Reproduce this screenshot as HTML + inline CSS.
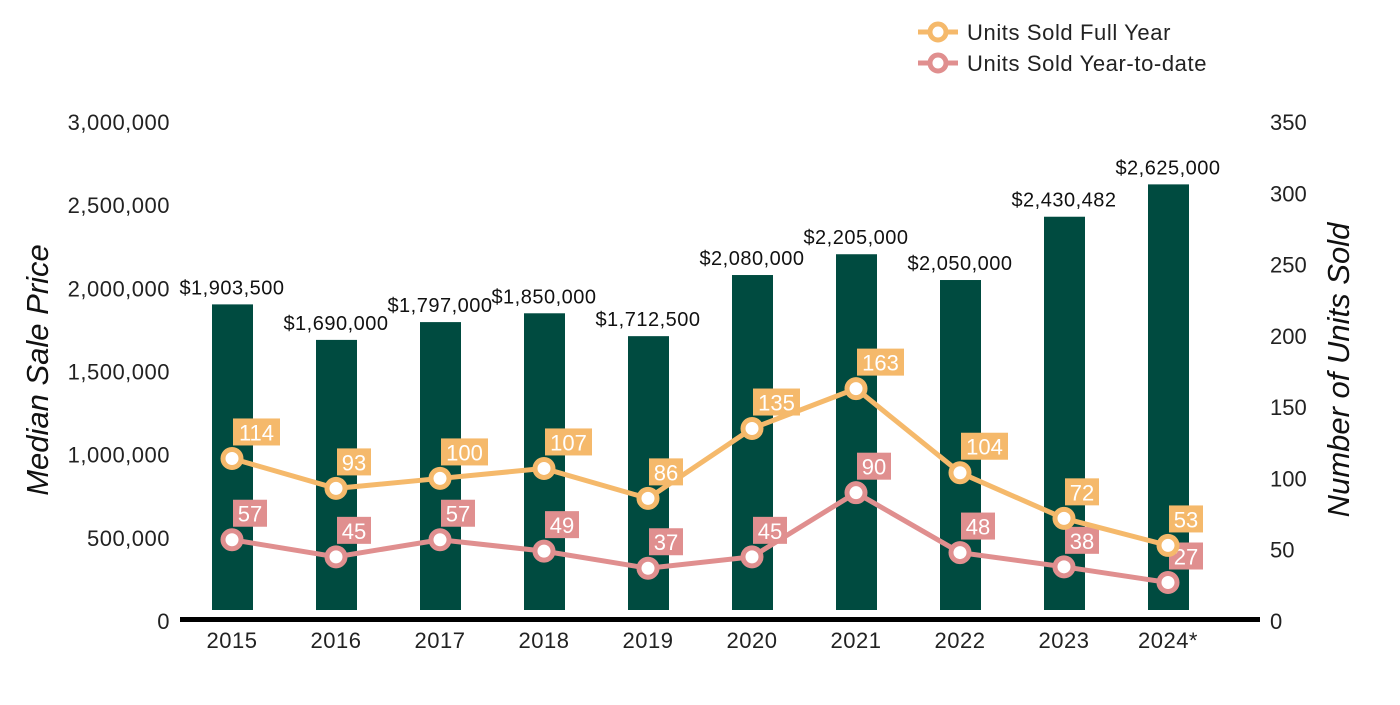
<!DOCTYPE html>
<html><head><meta charset="utf-8"><style>
body{margin:0;background:#fff;font-family:"Liberation Sans",Arial,sans-serif}
svg text{font-family:"Liberation Sans",Arial,sans-serif}
</style></head><body>
<svg id="c" width="1400" height="700">
<g id="legend">
 <g>
  <line x1="918" y1="32" x2="958" y2="32" stroke="#f5b96b" stroke-width="5"/>
  <circle cx="938" cy="32" r="8" fill="#fff" stroke="#f5b96b" stroke-width="5"/>
  <text x="967" y="40" font-size="22" letter-spacing="0.6" fill="#222">Units Sold Full Year</text>
 </g>
 <g>
  <line x1="918" y1="63" x2="958" y2="63" stroke="#e08f8f" stroke-width="5"/>
  <circle cx="938" cy="63" r="8" fill="#fff" stroke="#e08f8f" stroke-width="5"/>
  <text x="967" y="71" font-size="22" letter-spacing="0.6" fill="#222">Units Sold Year-to-date</text>
 </g>
</g>
<text x="48" y="370" font-size="31" font-style="italic" fill="#111" text-anchor="middle" transform="rotate(-90 48 370)">Median Sale Price</text>
<text x="1349" y="370" font-size="31" font-style="italic" fill="#111" text-anchor="middle" transform="rotate(-90 1349 370)">Number of Units Sold</text>
<g id="g"></g>
</svg>
<script>
const categories=["2015","2016","2017","2018","2019","2020","2021","2022","2023","2024*"];
const prices=[1903500,1690000,1797000,1850000,1712500,2080000,2205000,2050000,2430482,2625000];
const priceLabels=["$1,903,500","$1,690,000","$1,797,000","$1,850,000","$1,712,500","$2,080,000","$2,205,000","$2,050,000","$2,430,482","$2,625,000"];
const fullYear=[114,93,100,107,86,135,163,104,72,53];
const ytd=[57,45,57,49,37,45,90,48,38,27];
const leftTicks=[0,500000,1000000,1500000,2000000,2500000,3000000];
const rightTicks=[0,50,100,150,200,250,300,350];

const NS="http://www.w3.org/2000/svg";
const g=document.getElementById('g');
function mk(t,a,p){const e=document.createElementNS(NS,t);for(const k in a)e.setAttribute(k,a[k]);(p||g).appendChild(e);return e;}
const Y0=621,YT=122;
const yL=v=>Y0-v/3000000*(Y0-YT);
const yR=v=>Y0-v/350*(Y0-YT);
const xC=i=>232+i*104;

leftTicks.forEach(v=>{const t=mk('text',{x:170,y:yL(v)+8,'font-size':22,'letter-spacing':0.5,fill:'#222','text-anchor':'end'});t.textContent=v.toLocaleString('en-US');

});
rightTicks.forEach(v=>{const t=mk('text',{x:1270,y:yR(v)+8,'font-size':22,fill:'#222'});t.textContent=v;

});

prices.forEach((v,i)=>{
 const top=yL(v);
 const r=mk('rect',{x:xC(i)-20,y:top,width:41,height:610-top,fill:'#004b40'});
 
 
 const t=mk('text',{x:xC(i),y:top-10,'font-size':20,'letter-spacing':0.5,fill:'#111','text-anchor':'middle'});t.textContent=priceLabels[i];
 
 
 const c=mk('text',{x:xC(i),y:648,'font-size':22,'letter-spacing':0.5,fill:'#222','text-anchor':'middle'});c.textContent=categories[i];
 
 
});
const ax=mk('rect',{x:180,y:617,width:1080,height:5,fill:'#000'});



function series(vals,color,name){
 const pts=vals.map((v,i)=>xC(i)+','+yR(v)).join(' ');
 const l=mk('polyline',{points:pts,fill:'none',stroke:color,'stroke-width':5});
 
 
 vals.forEach((v,i)=>{
  const cx=xC(i),cy=yR(v);
  const c=mk('circle',{cx:cx,cy:cy,r:9,fill:'#fff',stroke:color,'stroke-width':5});
  
  
  const s=String(v);const w=s.length*13+8;
  const b=mk('rect',{x:cx+1,y:cy-40,width:w,height:27,fill:color});
  
  
  const t=mk('text',{x:cx+1+w/2,y:cy-18,'font-size':22,fill:'#fff','text-anchor':'middle'});t.textContent=s;
  
  
 });
}
series(ytd,'#e08f8f','units-ytd');
series(fullYear,'#f5b96b','units-full-year');
</script>
</body></html>
